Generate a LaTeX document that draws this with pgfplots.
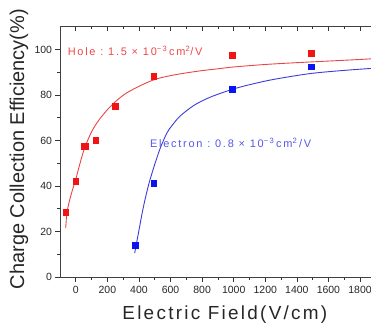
\documentclass[border=0pt]{standalone}
\usepackage{pgfplots}
\pgfplotsset{compat=1.18}
\usepackage{fontspec}
\setmainfont{Liberation Sans}
\newfontfamily\wide{Liberation Sans}[LetterSpace=12]
\newfontfamily\wider{Liberation Sans}[LetterSpace=16]
\definecolor{redm}{RGB}{240,20,20}
\definecolor{redc}{RGB}{230,70,70}
\definecolor{redt}{RGB}{240,70,70}
\definecolor{bluem}{RGB}{10,20,240}
\definecolor{bluec}{RGB}{60,60,215}
\definecolor{bluet}{RGB}{85,85,235}
\begin{document}
\begin{tikzpicture}
\pgfplotsset{
  base/.style={scale only axis, width=315.8bp, height=250.3bp,
    xmin=-100, xmax=1900, ymin=0, ymax=110,
    xtick={0,200,...,1800}, ytick={0,20,...,100},
    minor x tick num=1, minor y tick num=1,
    major tick length=4.5bp, minor tick length=2.8bp,
    tick style={black!80, line width=0.7bp},
    axis line style={line width=0.9bp, black!75},
  }
}
\begin{axis}[base, name=ax, clip=false, tick align=outside, xtick pos=bottom, ytick pos=left,
  ticklabel style={font=\fontsize{10.5}{12}\selectfont, black!85},
  /pgf/number format/assume math mode=true, /pgf/number format/1000 sep={},
  xticklabel style={yshift=-1bp}]
\addplot[redc, line width=0.9bp, smooth] coordinates {
(-64,21.5) (-58,27) (-50,30.5) (-38,34) (-20,38.5) (0,43) (25,49.5) (50,55.5)
(75,60) (100,63.8) (125,66.8) (150,69.3) (200,73.5) (250,77) (313,80.5)
(400,83.8) (500,86.8) (600,88.5) (700,89.7) (800,90.7) (900,91.5) (1000,92.3)
(1200,93.4) (1400,94.2) (1600,94.9) (1800,95.6) (1900,96)};
\addplot[bluec, line width=0.9bp, smooth] coordinates {
(373,10.5) (385,15) (400,20.5) (420,28) (440,34.5) (465,41.5) (500,49.5)
(537,57) (579,63.5) (620,67.5) (665,71) (750,75.5) (850,79) (988,82.4)
(1100,84.5) (1250,86.8) (1484,89.4) (1700,90.8) (1900,91.8)};
\addplot[only marks, mark=square*, mark size=2.9bp, redm] coordinates {
(-64,28.5) (0,42) (50,57.5) (62,57.5) (126,60) (249,75) (494,88.4) (990,97.5) (1489,98.2)};
\addplot[only marks, mark=square*, mark size=2.9bp, bluem] coordinates {
(375,14) (494,41.2) (990,82.4) (1489,92.4)};
\node[anchor=base west, text=redt, font=\wider\fontsize{11}{12}\selectfont, inner sep=0pt]
  at (axis cs:-52,97.5) {Hole\ :\ 1.5\ ×\ 10\textsuperscript{−3}\,cm\textsuperscript{2}/V};
\node[anchor=base west, text=bluet, font=\wider\fontsize{11}{12}\selectfont, inner sep=0pt]
  at (axis cs:469,57) {Electron\ :\ 0.8\ ×\ 10\textsuperscript{−3}\,cm\textsuperscript{2}\,/V};
\node[rotate=90, anchor=center, font=\fontsize{20}{24}\selectfont, text=black!85]
  at (rel axis cs:-0.13,0.511) {Charge Collection Efficiency(\%)};
\node[anchor=base, font=\wide\fontsize{19}{22}\selectfont, text=black!85]
  at (rel axis cs:0.522,-0.168) {Electric Field(V/cm)};
\end{axis}
\begin{axis}[base, tick align=inside, xtick pos=top, ytick pos=right,
  xticklabels={}, yticklabels={}]
\end{axis}
\pgfresetboundingbox
\path ([xshift=-60bp, yshift=-48bp]ax.south west) rectangle ([xshift=-4.8bp, yshift=26.7bp]ax.north east);
\end{tikzpicture}
\end{document}
